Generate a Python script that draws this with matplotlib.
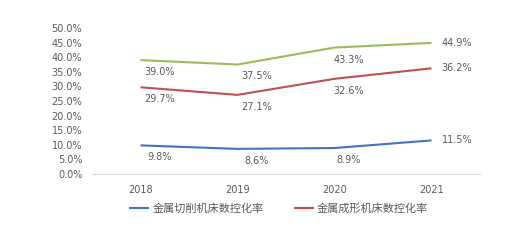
import matplotlib
matplotlib.use("Agg")
import matplotlib.pyplot as plt
from matplotlib.ticker import FuncFormatter

years = ["2018", "2019", "2020", "2021"]
cutting = [9.8, 8.6, 8.9, 11.5]
forming = [29.7, 27.1, 32.6, 36.2]
total = [39.0, 37.5, 43.3, 44.9]
series_names = ["金属切削机床数控化率", "金属成形机床数控化率"]
yticks = [0, 5, 10, 15, 20, 25, 30, 35, 40, 45, 50]

plt.rcParams['font.family'] = ['Noto Sans CJK SC', 'DejaVu Sans']
gray = "#595959"

fig = plt.figure(figsize=(5.28, 2.43), dpi=100)
ax = fig.add_axes([92/528, 1-174/243, 388/528, 146/243])

x = list(range(len(years)))
l1, = ax.plot(x, cutting, color="#4472C4", lw=1.5, solid_capstyle="butt")
l2, = ax.plot(x, forming, color="#C0504D", lw=1.5, solid_capstyle="butt")
l3, = ax.plot(x, total, color="#9BBB59", lw=1.5, solid_capstyle="butt")

lab_font = dict(fontsize=7, color=gray, family=['DejaVu Sans'])
for vals in (cutting, forming, total):
    for i, v in enumerate(vals):
        if i < 3:
            ax.annotate(f"{v:.1f}%", (i, v), xytext=(19 if i < 2 else 14, -12),
                        textcoords="offset pixels", ha="center", va="center", **lab_font)
        else:
            ax.annotate(f"{v:.1f}%", (i, v), xytext=(10, 0),
                        textcoords="offset pixels", ha="left", va="center", **lab_font)

ax.set_xlim(-0.5, 3.5)
ax.set_ylim(0, 50)
ax.set_yticks(yticks)
ax.yaxis.set_major_formatter(FuncFormatter(lambda v, p: f"{v:.1f}%"))
ax.set_xticks(x)
ax.set_xticklabels(years)
for s in ["top", "right", "left"]:
    ax.spines[s].set_visible(False)
ax.spines["bottom"].set_color("#D9D9D9")
ax.spines["bottom"].set_linewidth(0.8)
ax.tick_params(axis="both", length=0, labelsize=7, labelcolor=gray)
ax.tick_params(axis="y", pad=7)
ax.tick_params(axis="x", pad=8)
for t in ax.get_xticklabels() + ax.get_yticklabels():
    t.set_family(['DejaVu Sans'])

leg = fig.legend([l1, l2], series_names, loc="center left",
                 bbox_to_anchor=(119/528, 1-209/243), ncol=2, frameon=False,
                 fontsize=8, handlelength=1.8, handletextpad=0.3, columnspacing=2.7,
                 labelcolor=gray)

fig.savefig("out.png", dpi=100)
